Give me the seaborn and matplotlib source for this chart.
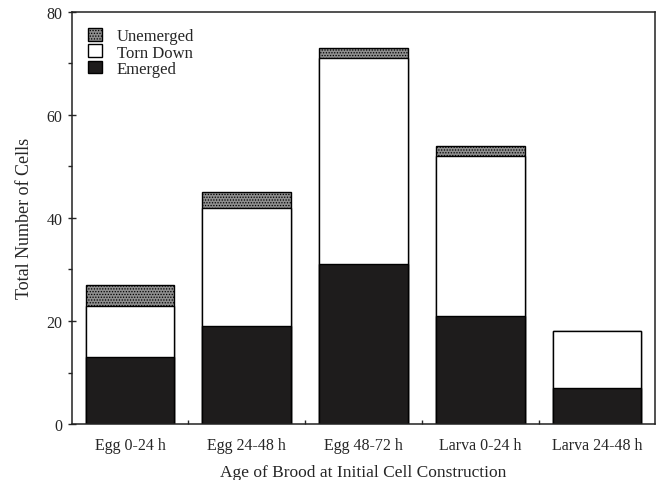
import numpy as np
import pandas as pd
import matplotlib
matplotlib.use("Agg")
import matplotlib.pyplot as plt
from matplotlib.patches import Patch
from matplotlib.ticker import MultipleLocator, FixedLocator
import seaborn as sns

# values
ages = ["Egg 0-24 h", "Egg 24-48 h", "Egg 48-72 h", "Larva 0-24 h", "Larva 24-48 h"]
emerged = [13, 19, 31, 21, 7]
torn_down = [10, 23, 40, 31, 11]
unemerged = [4, 3, 2, 2, 0]

sns.set_theme(style="ticks")
plt.rcParams["font.family"] = ["Liberation Serif", "DejaVu Serif"]
plt.rcParams["hatch.color"] = "#333333"
plt.rcParams["hatch.linewidth"] = 0.6

df = pd.DataFrame({"age": ages, "emerged": emerged,
                   "torn": torn_down, "unemerged": unemerged})
df["lvl2"] = df["emerged"] + df["torn"]
df["total"] = df["lvl2"] + df["unemerged"]

fig = plt.figure(figsize=(6.58, 4.81), dpi=100)
ax = fig.add_axes([0.109, 0.116, 0.887, 0.858])

# stacked bars drawn as cumulative totals, top layer first
sns.barplot(data=df, x="age", y="total", color="#8e8e8e", width=0.76,
            edgecolor="black", linewidth=1.0, hatch="......", saturation=1, ax=ax)
sns.barplot(data=df, x="age", y="lvl2", color="white", width=0.76,
            edgecolor="black", linewidth=1.0, saturation=1, ax=ax)
sns.barplot(data=df, x="age", y="emerged", color="#1e1c1c", width=0.76,
            edgecolor="black", linewidth=1.0, saturation=1, ax=ax)

ax.set_xlim(-0.5, 4.5)
ax.set_ylim(0, 80)
ax.yaxis.set_major_locator(MultipleLocator(20))
ax.yaxis.set_minor_locator(MultipleLocator(10))
ax.xaxis.set_minor_locator(FixedLocator([0.5, 1.5, 2.5, 3.5]))
ax.tick_params(axis="x", which="major", length=0, labelsize=11.5, pad=9)
ax.tick_params(axis="x", which="minor", direction="in", length=3, width=1)
ax.tick_params(axis="y", which="major", direction="inout", length=6, width=1, labelsize=11.5)
ax.tick_params(axis="y", which="minor", direction="out", length=3, width=1)
for s in ax.spines.values():
    s.set_linewidth(1.1)
    s.set_color("#222222")

ax.set_xlabel("Age of Brood at Initial Cell Construction", fontsize=12.5, labelpad=8)
ax.set_ylabel("Total Number of Cells", fontsize=13, labelpad=10)

handles = [
    Patch(facecolor="#8e8e8e", edgecolor="black", hatch="......", label="Unemerged"),
    Patch(facecolor="white", edgecolor="black", label="Torn Down"),
    Patch(facecolor="#1e1c1c", edgecolor="black", label="Emerged"),
]
ax.legend(handles=handles, loc="upper left", frameon=False, fontsize=12,
          handlelength=0.8, handleheight=0.8, handletextpad=0.9,
          labelspacing=0.0, borderaxespad=0.6)

fig.savefig("out.png", dpi=100)
